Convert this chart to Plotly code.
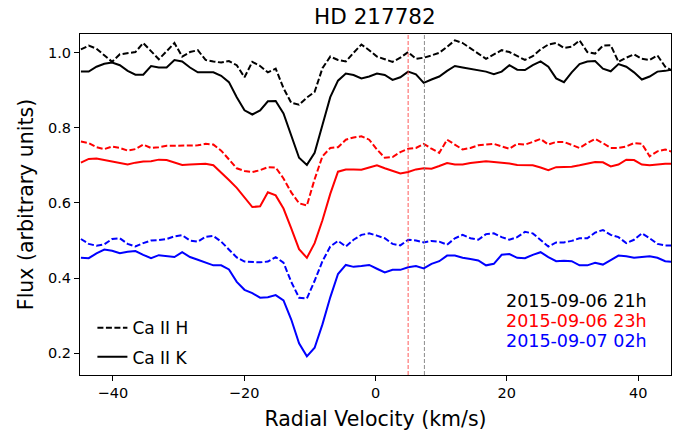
import plotly.graph_objects as go

# Radial velocity grid (km/s)
velocity = [-44.86, -43.67, -42.49, -41.30, -40.11, -38.93, -37.74, -36.56, -35.37, -34.18,
            -33.00, -31.81, -30.62, -29.44, -28.25, -27.06, -25.88, -24.69, -23.50, -22.32,
            -21.13, -19.95, -18.76, -17.57, -16.39, -15.20, -14.01, -12.83, -11.64, -10.45,
            -9.27, -8.08, -6.89, -5.71, -4.52, -3.34, -2.15, -0.96, 0.22, 1.41,
            2.60, 3.78, 4.97, 6.16, 7.34, 8.53, 9.71, 10.90, 12.09, 13.27,
            14.46, 15.65, 16.83, 18.02, 19.21, 20.39, 21.58, 22.76, 23.95, 25.14,
            26.32, 27.51, 28.70, 29.88, 31.07, 32.26, 33.44, 34.63, 35.82, 37.00,
            38.19, 39.37, 40.56, 41.75, 42.93, 44.12, 45.31]

# 2015-09-06 21h
cah_21h = [1.008, 1.018, 1.010, 0.992, 0.975, 0.995, 0.999, 1.001, 1.025, 1.003,
           0.982, 1.003, 1.025, 0.989, 1.001, 1.006, 0.980, 0.976, 0.973, 0.977,
           0.966, 0.934, 0.975, 0.964, 0.947, 0.957, 0.905, 0.866, 0.861, 0.880,
           0.895, 0.958, 0.989, 0.980, 0.976, 0.999, 1.021, 1.006, 0.989, 0.982,
           0.975, 0.986, 1.001, 0.983, 0.986, 0.992, 0.999, 1.015, 1.032, 1.025,
           1.012, 0.997, 0.983, 0.995, 1.006, 1.001, 0.990, 0.980, 0.990, 1.008,
           1.021, 1.025, 1.012, 1.015, 1.032, 1.001, 0.997, 1.018, 1.019, 0.975,
           0.986, 0.995, 0.983, 0.980, 0.992, 0.962, 0.950]
cak_21h = [0.949, 0.949, 0.962, 0.970, 0.973, 0.966, 0.951, 0.941, 0.941, 0.964,
           0.960, 0.960, 0.980, 0.976, 0.960, 0.947, 0.947, 0.947, 0.938, 0.921,
           0.881, 0.846, 0.835, 0.846, 0.870, 0.871, 0.838, 0.781, 0.720, 0.701,
           0.733, 0.807, 0.881, 0.925, 0.944, 0.940, 0.931, 0.936, 0.944, 0.940,
           0.927, 0.934, 0.949, 0.942, 0.919, 0.928, 0.936, 0.951, 0.964, 0.960,
           0.956, 0.954, 0.949, 0.942, 0.949, 0.966, 0.954, 0.953, 0.966, 0.976,
           0.962, 0.931, 0.921, 0.947, 0.969, 0.976, 0.977, 0.957, 0.950, 0.969,
           0.962, 0.947, 0.928, 0.936, 0.949, 0.951, 0.955]

# 2015-09-06 23h
cah_23h = [0.763, 0.759, 0.748, 0.743, 0.750, 0.746, 0.739, 0.743, 0.755, 0.746,
           0.748, 0.752, 0.752, 0.752, 0.751, 0.753, 0.757, 0.755, 0.739, 0.716,
           0.692, 0.685, 0.682, 0.687, 0.695, 0.694, 0.665, 0.628, 0.599, 0.593,
           0.663, 0.724, 0.746, 0.748, 0.768, 0.774, 0.777, 0.768, 0.742, 0.720,
           0.722, 0.735, 0.744, 0.746, 0.757, 0.744, 0.733, 0.768, 0.755, 0.742,
           0.746, 0.753, 0.755, 0.757, 0.750, 0.744, 0.757, 0.755, 0.762, 0.770,
           0.755, 0.762, 0.762, 0.753, 0.746, 0.759, 0.770, 0.759, 0.746, 0.746,
           0.750, 0.759, 0.757, 0.724, 0.737, 0.742, 0.735]
cak_23h = [0.707, 0.717, 0.718, 0.714, 0.708, 0.704, 0.702, 0.707, 0.710, 0.711,
           0.715, 0.714, 0.707, 0.701, 0.702, 0.703, 0.704, 0.700, 0.681, 0.661,
           0.640, 0.615, 0.589, 0.591, 0.628, 0.620, 0.585, 0.532, 0.477, 0.454,
           0.493, 0.554, 0.624, 0.683, 0.689, 0.689, 0.688, 0.694, 0.700, 0.692,
           0.685, 0.678, 0.682, 0.689, 0.692, 0.691, 0.698, 0.706, 0.702, 0.702,
           0.706, 0.709, 0.711, 0.709, 0.707, 0.705, 0.701, 0.701, 0.700, 0.694,
           0.687, 0.695, 0.695, 0.696, 0.700, 0.704, 0.709, 0.708, 0.697, 0.702,
           0.715, 0.714, 0.702, 0.700, 0.703, 0.704, 0.704]

# 2015-09-07 02h
cah_02h = [0.504, 0.491, 0.486, 0.490, 0.504, 0.506, 0.491, 0.484, 0.493, 0.500,
           0.501, 0.504, 0.511, 0.514, 0.500, 0.497, 0.510, 0.512, 0.497, 0.476,
           0.455, 0.444, 0.443, 0.442, 0.444, 0.456, 0.441, 0.390, 0.348, 0.346,
           0.393, 0.445, 0.484, 0.499, 0.484, 0.502, 0.515, 0.519, 0.513, 0.506,
           0.491, 0.487, 0.502, 0.500, 0.495, 0.499, 0.497, 0.489, 0.506, 0.515,
           0.506, 0.502, 0.517, 0.519, 0.509, 0.502, 0.509, 0.523, 0.519, 0.502,
           0.484, 0.495, 0.495, 0.499, 0.506, 0.506, 0.521, 0.528, 0.515, 0.509,
           0.493, 0.502, 0.519, 0.506, 0.491, 0.487, 0.487]
cak_02h = [0.454, 0.453, 0.466, 0.476, 0.473, 0.466, 0.470, 0.472, 0.462, 0.453,
           0.461, 0.458, 0.456, 0.469, 0.456, 0.449, 0.442, 0.434, 0.434, 0.423,
           0.390, 0.369, 0.360, 0.348, 0.349, 0.355, 0.341, 0.290, 0.227, 0.192,
           0.215, 0.277, 0.349, 0.411, 0.435, 0.430, 0.432, 0.435, 0.425, 0.415,
           0.422, 0.422, 0.429, 0.432, 0.426, 0.438, 0.445, 0.460, 0.460, 0.454,
           0.451, 0.447, 0.434, 0.438, 0.462, 0.464, 0.454, 0.453, 0.462, 0.469,
           0.456, 0.445, 0.446, 0.445, 0.434, 0.434, 0.441, 0.436, 0.448, 0.460,
           0.458, 0.454, 0.456, 0.458, 0.454, 0.445, 0.443]

epochs = ["2015-09-06 21h", "2015-09-06 23h", "2015-09-07 02h"]
colors = ["black", "red", "blue"]
h_series = [cah_21h, cah_23h, cah_02h]
k_series = [cak_21h, cak_23h, cak_02h]

vline_red = 4.97
vline_gray = 7.45

FONT = "DejaVu Sans"
DASH = "6px,2.5px"

fig = go.Figure()
for ep, col, h, k in zip(epochs, colors, h_series, k_series):
    fig.add_trace(go.Scatter(x=velocity, y=h, mode="lines", showlegend=False,
                             line=dict(color=col, width=2, dash=DASH), name=ep + " Ca II H"))
    fig.add_trace(go.Scatter(x=velocity, y=k, mode="lines", showlegend=False,
                             line=dict(color=col, width=2), name=ep + " Ca II K"))

# legend entries
fig.add_trace(go.Scatter(x=[None], y=[None], mode="lines", name="Ca II H", legendgroup="h",
                         line=dict(color="black", width=2, dash=DASH)))
fig.add_trace(go.Scatter(x=[None], y=[None], mode="lines", name="Ca II K", legendgroup="k",
                         line=dict(color="black", width=2)))

fig.add_vline(x=vline_red, line=dict(color="rgba(255,60,60,0.85)", width=1, dash="4px,2px"))
fig.add_vline(x=vline_gray, line=dict(color="rgba(128,128,128,0.9)", width=1, dash="4px,2px"))

ann_y = [0.216, 0.158, 0.100]
for ep, col, yy in zip(epochs, colors, ann_y):
    fig.add_annotation(x=0.717, y=yy, xref="paper", yref="paper", text=ep,
                       showarrow=False, xanchor="left", yanchor="middle",
                       font=dict(family=FONT, size=17.5, color=col))

fig.update_layout(
    width=686, height=439,
    margin=dict(l=80, r=15, t=34, b=58),
    paper_bgcolor="white", plot_bgcolor="white",
    font=dict(family=FONT, color="black"),
    title=dict(text="HD 217782", x=0.5465, xanchor="center", y=0.962, yanchor="middle",
               font=dict(family=FONT, size=21.5, color="black")),
    showlegend=True,
    legend=dict(x=0.021, y=0.19, xanchor="left", yanchor="top",
                bgcolor="rgba(0,0,0,0)", font=dict(family=FONT, size=17, color="black"),
                tracegroupgap=4),
)
fig.update_xaxes(range=[-45, 45], tickvals=[-40, -20, 0, 20, 40],
                 showgrid=False, zeroline=False, showline=True, mirror=True,
                 linecolor="black", linewidth=1.1, ticks="outside", ticklen=5,
                 tickwidth=1.1, tickcolor="black",
                 tickfont=dict(family=FONT, size=14.5, color="black"),
                 title=dict(text="Radial Velocity (km/s)", standoff=11,
                            font=dict(family=FONT, size=20.5, color="black")))
fig.update_yaxes(range=[0.1425, 1.049], tickvals=[0.2, 0.4, 0.6, 0.8, 1.0], tickformat=".1f",
                 showgrid=False, zeroline=False, showline=True, mirror=True,
                 linecolor="black", linewidth=1.1, ticks="outside", ticklen=5,
                 tickwidth=1.1, tickcolor="black",
                 tickfont=dict(family=FONT, size=14.5, color="black"),
                 title=dict(text="Flux (arbitrary units)", standoff=8,
                            font=dict(family=FONT, size=20.5, color="black")))

fig.write_html("out.html")
